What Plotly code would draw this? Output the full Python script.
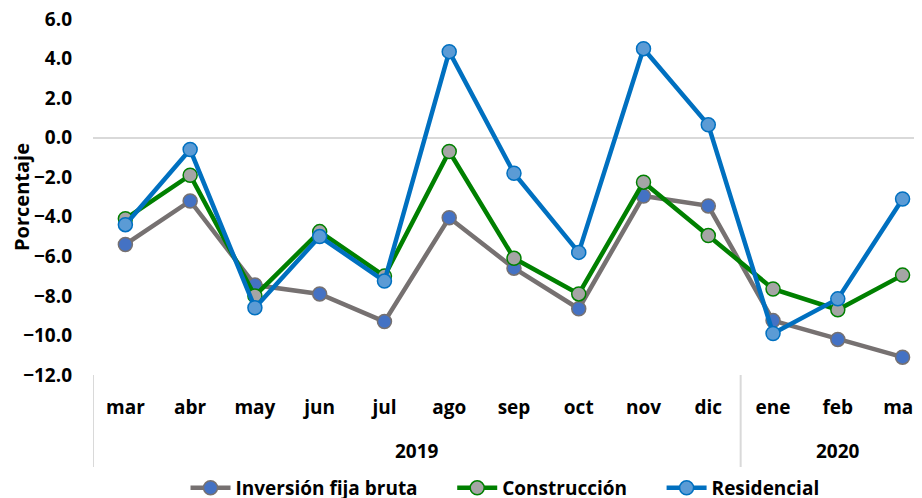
import plotly.graph_objects as go

months = ["mar", "abr", "may", "jun", "jul", "ago", "sep", "oct", "nov", "dic", "ene", "feb", "mar"]
year_labels = ["2019", "2020"]
year_counts = [10, 3]

inversion = [-5.4, -3.2, -7.45, -7.9, -9.3, -4.05, -6.6, -8.65, -2.95, -3.45, -9.25, -10.2, -11.1]
construccion = [-4.1, -1.9, -8.0, -4.75, -7.0, -0.7, -6.1, -7.9, -2.25, -4.95, -7.65, -8.7, -6.95]
residencial = [-4.4, -0.6, -8.6, -5.0, -7.25, 4.35, -1.8, -5.8, 4.5, 0.65, -9.9, -8.15, -3.1]

y_ticks = [6, 4, 2, 0, -2, -4, -6, -8, -10, -12]

FONT = "Open Sans"
TXT = "#000000"
PAD = "\u00a0" * 6
idx = list(range(len(months)))

fig = go.Figure()
fig.add_trace(go.Scatter(
    x=idx, y=inversion, name="Inversión fija bruta" + PAD, mode="lines+markers",
    line=dict(color="#767171", width=4.5),
    marker=dict(size=14, color="#4472C4", line=dict(color="#767171", width=1.5)),
))
fig.add_trace(go.Scatter(
    x=idx, y=construccion, name="Construcción" + PAD, mode="lines+markers",
    line=dict(color="#008000", width=4.5),
    marker=dict(size=14, color="#A5A5A5", line=dict(color="#008000", width=1.5)),
))
fig.add_trace(go.Scatter(
    x=idx, y=residencial, name="Residencial", mode="lines+markers",
    line=dict(color="#0070C0", width=4.5),
    marker=dict(size=14, color="#5B9BD5", line=dict(color="#0070C0", width=1.5)),
))

# year group labels and dividers
start = 0
bounds = [-0.5]
for lab, n in zip(year_labels, year_counts):
    center = start + (n - 1) / 2
    fig.add_annotation(x=center, y=-(451 - 375) / 356, xref="x", yref="paper", yanchor="middle",
                       text=lab, showarrow=False,
                       font=dict(family=FONT, size=19, color=TXT, weight="bold"))
    start += n
    bounds.append(start - 0.5)
for b in bounds[:-1]:
    fig.add_shape(type="line", xref="x", yref="y domain", x0=b, x1=b, y0=0, y1=-92 / 356,
                  line=dict(color="#d9d9d9", width=2))

fig.update_layout(
    width=914, height=490,
    margin=dict(l=85, r=0, t=11, b=123),
    paper_bgcolor="white", plot_bgcolor="white",
    font=dict(family=FONT, size=18, color=TXT),
    showlegend=True,
    legend=dict(orientation="h", xanchor="center", x=0.497, yref="container", y=10 / 490, yanchor="middle",
                font=dict(family=FONT, size=19, color=TXT, weight="bold"),
                itemwidth=40, tracegroupgap=0),
    xaxis=dict(
        range=[-0.5, 12.3], tickvals=idx, ticktext=months,
        showgrid=False, zeroline=False, showline=False, ticks="",
        ticklabelstandoff=19, ticklabeloverflow="allow",
        tickfont=dict(family=FONT, size=19, color=TXT, weight="bold"),
        automargin=False,
    ),
    yaxis=dict(
        range=[-12, 6], tickvals=y_ticks, tickformat=".1f",
        showgrid=False, zeroline=True, zerolinecolor="#d9d9d9", zerolinewidth=2,
        showline=False, ticks="", ticklabelstandoff=20, ticklabeloverflow="allow",
        tickfont=dict(family=FONT, size=19, color=TXT, weight="bold"),
        title=dict(text="Porcentaje", font=dict(family=FONT, size=20, color=TXT, weight="bold"), standoff=6),
        automargin=False,
    ),
)

fig.write_html("out.html")
